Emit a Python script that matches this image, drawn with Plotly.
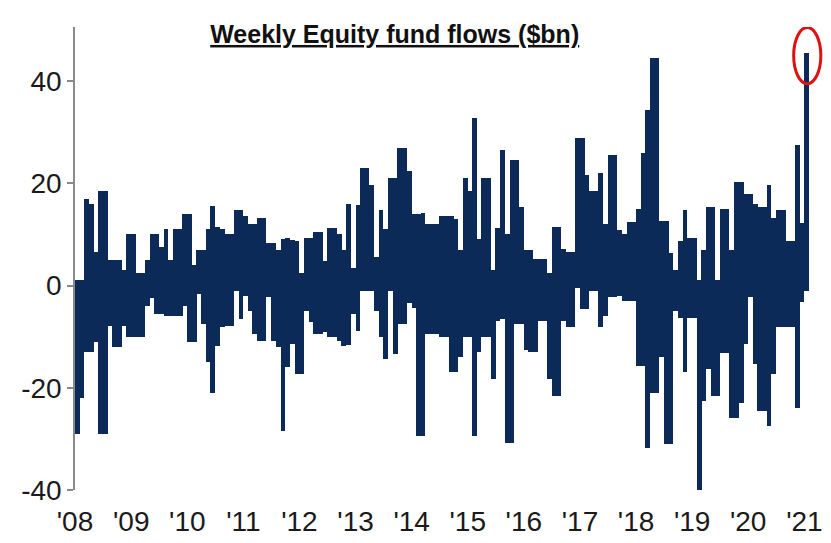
import pandas as pd
import plotly.graph_objects as go

# Monthly envelope of weekly equity fund flows ($bn), Jan 2008 .. Jan 2021
start_month = "2008-01-01"
inflow_max = [
    1, 1, 17, 16, 6.5, 18.6, 18.6, 5, 5, 5, 3, 10,
    10, 2.5, 2.5, 5, 10, 10, 7.5, 11, 5, 11, 11, 14,
    14, 4, 7, 7, 11, 15.5, 11.4, 11, 10, 10, 14.7, 14.7,
    13.7, 12, 12, 13.3, 13.3, 8.4, 8.4, 7, 9.2, 9.4, 9, 8.8,
    2.4, 9.4, 9.4, 10.4, 10.4, 4.9, 11.2, 11.2, 10, 6.9, 16, 3.5,
    15.7, 23, 23, 19.6, 5.5, 14.7, 11, 21, 21, 27, 27, 22.5,
    14, 14, 14.3, 12, 12, 12, 13.7, 13.7, 13.7, 13, 6.9, 21,
    18.6, 32.7, 9.2, 21, 21, 3, 11.2, 26.5, 10, 24.5, 24.5, 15.3,
    6.9, 6.9, 5.3, 5.3, 5.3, 2.4, 11.4, 11.4, 7.2, 6.5, 6.5, 28.8,
    28.8, 21.6, 18.6, 18.6, 22, 12, 25.5, 25.5, 10.8, 10, 12.4, 12.4,
    15, 26, 34.3, 44.5, 44.5, 12.7, 12.7, 6.3, 3, 8.8, 14.7, 9.4,
    9.4, 1, 6.9, 15.3, 15.3, 1, 15, 15, 6.9, 20.2, 20.2, 18,
    18, 16, 15.3, 15.3, 19.6, 13.3, 14.7, 14.7, 8.8, 8.8, 27.5, 12.2,
    45.5,
]
outflow_max = [
    -29, -22, -13, -13, -11, -29, -29, -8, -12, -12, -8, -10,
    -10, -10, -10, -4, -2.5, -5.5, -5.5, -6, -6, -6, -6, -4,
    -11, -11, -1.6, -7.5, -15, -21, -11.8, -8.2, -8, -8, -1, -6.5,
    -2, -5, -9.4, -10.8, -10.8, -2.3, -10.8, -12, -28.4, -16, -11.4, -17.3,
    -17.3, -5, -7.2, -9.4, -9.4, -9, -10, -10, -10.8, -11.8, -11.6, -5.6,
    -8.8, -1, -1, -1, -5, -10, -14.3, -1, -13.3, -7.5, -7.5, -3.5,
    -4.3, -29.4, -29.4, -9.4, -9.4, -9.4, -10, -10, -17, -17, -14, -10,
    -10, -29.4, -13, -10, -10, -18.2, -6.9, -6.5, -30.8, -30.8, -7.5, -7.5,
    -12.7, -13, -13, -7, -7, -18.2, -21.6, -21.6, -6.9, -8.2, -8.2, -0.4,
    -4.5, -4.5, -1, -1, -8.2, -6, -2.3, -2.3, -2, -3, -3, -3,
    -15.7, -15.7, -31.8, -21, -21, -14, -31, -31, -5, -6.3, -17, -6.3,
    -6.3, -40.6, -22.5, -16.3, -21.6, -21.6, -13.1, -13.1, -26, -26, -23, -11.4,
    -2.3, -15.3, -24.5, -24.5, -27.4, -17.3, -8.2, -8.2, -8.2, -8.2, -24, -3.3,
    -1,
]
year_ticks = [f"{y}-01-01" for y in range(2008, 2022)]
year_labels = [f"'{str(y)[2:]}" for y in range(2008, 2022)]
y_ticks = [40, 20, 0, -20, -40]
y_labels = ["40", "20", "0", "-20", "-40"]

months = pd.date_range(start_month, periods=len(inflow_max), freq="MS")
centers = months + pd.Timedelta(days=15)
bar_w = 31 * 24 * 3600 * 1000

navy = "#0c2a57"
fig = go.Figure()
for vals in (inflow_max, outflow_max):
    fig.add_trace(go.Bar(x=centers, y=vals, width=bar_w,
                         marker=dict(color=navy, line=dict(width=0)),
                         hoverinfo="x+y", showlegend=False))

last_x = centers[-1]
last_y = inflow_max[-1]
fig.add_shape(type="circle", xref="x", yref="y",
              x0=last_x - pd.Timedelta(days=85), x1=last_x + pd.Timedelta(days=92),
              y0=last_y - 6, y1=last_y + 5,
              line=dict(color="#e01010", width=3))

font_main = "Liberation Sans, Arial, sans-serif"
fig.update_layout(
    width=831, height=543,
    margin=dict(l=75, r=6, t=27, b=53, autoexpand=False),
    paper_bgcolor="white", plot_bgcolor="white",
    barmode="overlay", bargap=0,
    font=dict(family=font_main, size=28, color="#1a1a1a"),
    title=dict(text="<b><u>Weekly Equity fund flows ($bn)</u></b>",
               x=0.475, xanchor="center", y=0.937, yanchor="middle",
               font=dict(family=font_main, size=25, color="#111111")),
    xaxis=dict(type="date", range=["2008-01-01", "2021-05-15"],
               tickvals=year_ticks, ticktext=year_labels, automargin=False,
               showgrid=False, zeroline=False, showline=False,
               ticks="outside", ticklen=6, tickcolor="rgba(0,0,0,0)"),
    yaxis=dict(range=[-40, 50.6], tickvals=y_ticks, ticktext=y_labels,
               automargin=False,
               showgrid=False, zeroline=False, showline=True,
               linecolor="#8a8a8a", linewidth=1.5,
               ticks="outside", ticklen=6, tickcolor="#8a8a8a", tickwidth=1.5),
)
fig.write_html("out.html", config={"displayModeBar": False},
               post_script="document.body.style.margin='0';document.body.style.padding='0';")
